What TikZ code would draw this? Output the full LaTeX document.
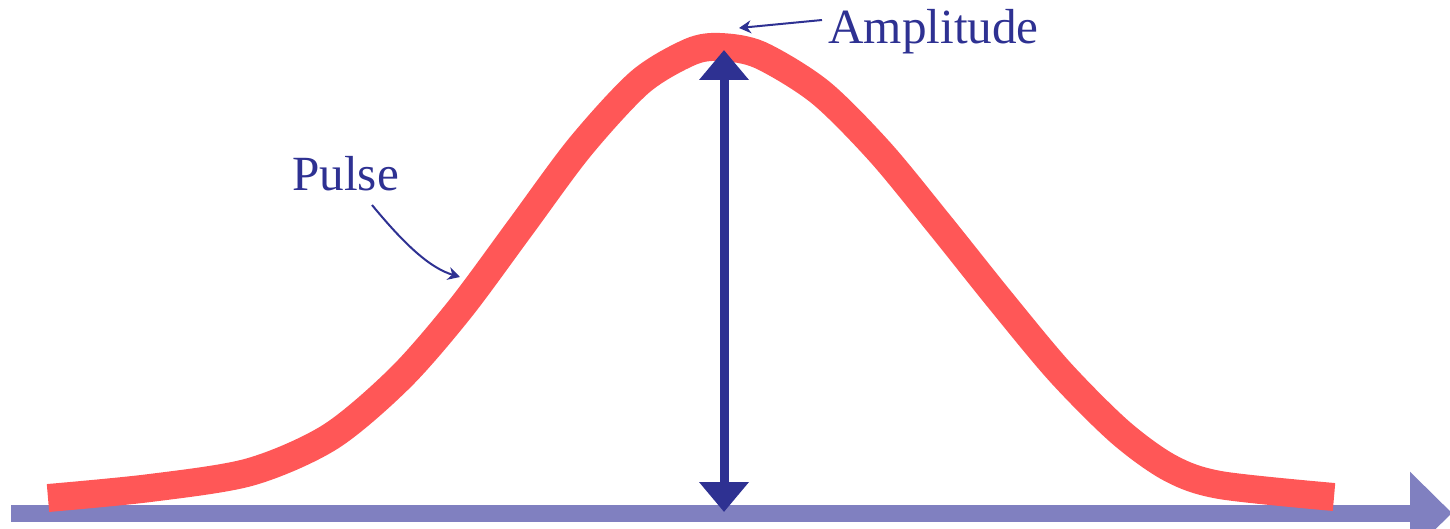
\documentclass[tikz,border=0pt]{standalone}
\usepackage{fontspec}
\setmainfont{Liberation Serif}
\usetikzlibrary{arrows.meta}
\definecolor{pulsered}{RGB}{255,87,87}
\definecolor{axisblue}{RGB}{128,128,192}
\definecolor{labelblue}{RGB}{46,49,146}

\begin{document}
\begin{tikzpicture}[x=0.02cm,y=-0.02cm,font=\fontsize{28}{32}\selectfont,
  axis/.style={axisblue,line width=0.34cm,-{Triangle[length=0.84cm,width=1.6cm]}},
  pulse/.style={pulsered,line width=0.56cm},
  amp/.style={labelblue,line width=0.18cm,
    {Triangle[length=0.6cm,width=0.96cm]}-{Triangle[length=0.6cm,width=0.96cm]}},
  callout/.style={labelblue,line width=0.04cm,-{Stealth[length=0.24cm,width=0.26cm]}},
  label/.style={labelblue,inner sep=0pt,anchor=base west}]
  \useasboundingbox (0,0) rectangle (1450,528);

  \coordinate (O) at (11,513);
  \coordinate (E) at (1452,513);
  \coordinate (top) at (724,50);
  \coordinate (base) at (724,512);

  % 时间轴
  \draw[axis] (O) -- (E);

  % 脉冲
  \draw[pulse] plot[smooth,tension=0.5] coordinates {
    (48,498) (150,488) (250,472) (330,437) (400,378) (460,309)
    (520,228) (580,147) (640,82) (690,52) (720,47) (760,55)
    (820,92) (880,152) (940,225) (1000,300) (1060,372)
    (1120,432) (1170,468) (1220,485) (1334,497)};

  % 振幅
  \draw[amp] (base) -- (top);

  % 标注
  \node[label] (amplabel) at (828,43) {Amplitude};
  \node[label] (pulselabel) at (292,190) {Pulse};
  \coordinate (amptail) at (822,20);
  \coordinate (amptip) at (739,28);
  \coordinate (pulsetail) at (372,205);
  \coordinate (pulsetip) at (460,277);
  \draw[callout] (amptail) -- (amptip);
  \draw[callout] (pulsetail) .. controls (405,245) and (430,268) .. (pulsetip);
\end{tikzpicture}
\end{document}
